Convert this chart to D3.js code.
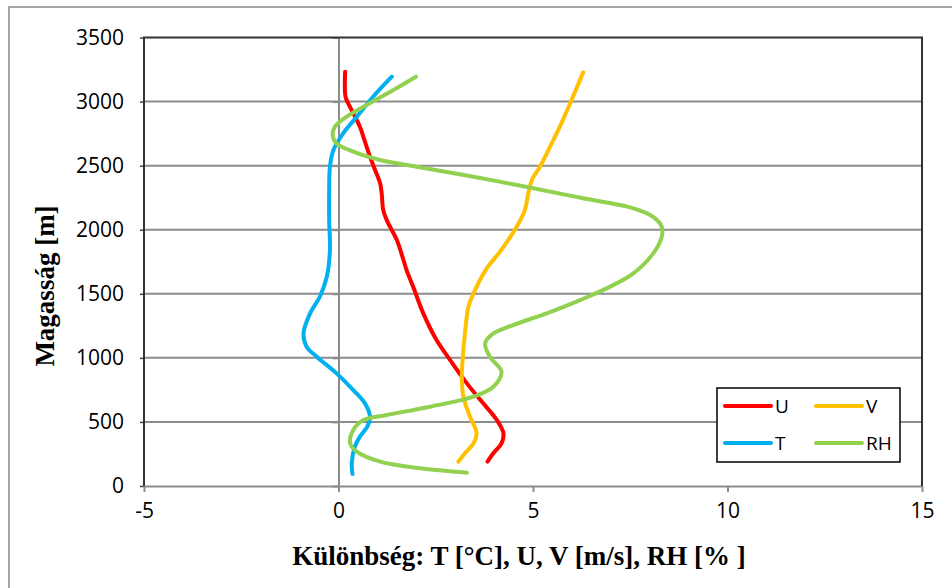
<!DOCTYPE html>
<html>
<head>
<meta charset="utf-8">
<script src="https://cdn.jsdelivr.net/npm/d3@7"></script>
<style>
  body { margin: 0; background: #fff; }
  svg { display: block; }
</style>
</head>
<body>
<script>
// Differences by height
const uHeight = [3233, 3038, 2986, 2908, 2804, 2725, 2570, 2466, 2362, 2284, 2153, 2075, 1919, 1763, 1685, 1555, 1347, 1139, 983, 801, 645, 515, 411, 333, 255, 190]
const uValue = [0.17, 0.18, 0.25, 0.38, 0.55, 0.64, 0.81, 0.94, 1.07, 1.11, 1.15, 1.24, 1.5, 1.67, 1.75, 1.92, 2.18, 2.52, 2.87, 3.30, 3.72, 4.07, 4.24, 4.19, 3.98, 3.83]

const vHeight = [3228, 3012, 2804, 2648, 2492, 2388, 2284, 2153, 2023, 1828, 1698, 1503, 1399, 1191, 983, 853, 697, 541, 411, 333, 255, 190]
const vValue = [6.29, 5.99, 5.69, 5.44, 5.18, 4.97, 4.88, 4.79, 4.58, 4.15, 3.81, 3.47, 3.34, 3.25, 3.19, 3.17, 3.21, 3.38, 3.55, 3.47, 3.25, 3.08]

const tHeight = [3194, 3038, 2882, 2752, 2622, 2492, 2284, 2075, 1841, 1633, 1477, 1347, 1191, 1087, 1009, 879, 749, 645, 541, 463, 385, 307, 177, 94]
const tValue = [1.37, 0.89, 0.47, 0.12, -0.13, -0.22, -0.24, -0.24, -0.22, -0.30, -0.48, -0.73, -0.90, -0.82, -0.56, -0.05, 0.38, 0.68, 0.81, 0.74, 0.55, 0.42, 0.34, 0.36]

const rhHeight = [3194, 3090, 2973, 2882, 2804, 2739, 2674, 2609, 2544, 2492, 2414, 2323, 2245, 2167, 2101, 2023, 1945, 1815, 1659, 1542, 1451, 1347, 1256, 1191, 1113, 1009, 892, 775, 697, 619, 554, 515, 437, 333, 268, 190, 138, 104]
const rhValue = [1.99, 1.41, 0.72, 0.21, -0.09, -0.15, -0.05, 0.38, 1.07, 2.01, 3.47, 5.01, 6.29, 7.58, 8.09, 8.31, 8.31, 8.09, 7.58, 6.89, 6.21, 5.35, 4.49, 3.98, 3.77, 3.89, 4.19, 3.98, 3.47, 2.35, 1.24, 0.64, 0.38, 0.30, 0.47, 1.07, 2.10, 3.30]

const xTicks = [-5, 0, 5, 10, 15]
const yTicks = [0, 500, 1000, 1500, 2000, 2500, 3000, 3500]

const seriesNames = ['U', 'V', 'T', 'RH']
const seriesColors = ['#ff0000', '#ffc000', '#00b0f0', '#92d050']

const series = [
    { name: 'U', h: uHeight, v: uValue },
    { name: 'V', h: vHeight, v: vValue },
    { name: 'T', h: tHeight, v: tValue },
    { name: 'RH', h: rhHeight, v: rhValue },
]

const W = 952, H = 588
const margin = { top: 37.5, right: 30, bottom: 102, left: 144 }
const width = 922 - margin.left
const height = 486 - margin.top

const svg = d3.select('body').append('svg')
    .attr('width', W)
    .attr('height', H)

// outer chart border
svg.append('rect')
    .attr('x', 9).attr('y', 7)
    .attr('width', W).attr('height', H)
    .style('fill', 'none')
    .style('stroke', '#a6a6a6')
    .style('stroke-width', 2)

const g = svg.append('g')
    .attr('transform', `translate(${margin.left}, ${margin.top})`)

const xScale = d3.scaleLinear().domain([-5, 15]).range([0, width])
const yScale = d3.scaleLinear().domain([0, 3500]).range([height, 0])

const plain = d => String(d)

// horizontal gridlines
g.append('g')
    .selectAll('line')
    .data(yTicks.filter(d => d > 0 && d < 3500))
    .join('line')
    .attr('x1', 0).attr('x2', width)
    .attr('y1', d => yScale(d)).attr('y2', d => yScale(d))
    .style('stroke', '#8c8c8c')
    .style('stroke-width', 2)

// y tick labels on the left border
const yAxis = g.append('g')
    .call(d3.axisLeft(yScale).tickValues(yTicks).tickFormat(plain).tickSize(4).tickPadding(16))
yAxis.select('.domain').remove()
yAxis.selectAll('line').style('stroke', '#404040').style('stroke-width', 1.5)
yAxis.selectAll('text')
    .style('font-family', '"Open Sans", sans-serif')
    .style('font-size', '21px')
    .style('fill', '#000')

// value axis through x = 0
const zeroAxis = g.append('g')
    .attr('transform', `translate(${xScale(0)}, 0)`)
    .call(d3.axisLeft(yScale).tickValues(yTicks).tickSize(6).tickSizeOuter(0).tickFormat(''))
zeroAxis.select('.domain').style('stroke', '#8c8c8c').style('stroke-width', 2)
zeroAxis.selectAll('line').style('stroke', '#8c8c8c').style('stroke-width', 2)

// x axis
const xAxis = g.append('g')
    .attr('transform', `translate(0, ${height})`)
    .call(d3.axisBottom(xScale).tickValues(xTicks).tickFormat(plain).tickSize(6).tickSizeOuter(0).tickPadding(11))
xAxis.select('.domain').style('stroke', '#8c8c8c').style('stroke-width', 2)
xAxis.selectAll('line').style('stroke', '#8c8c8c').style('stroke-width', 2)
xAxis.selectAll('text')
    .style('font-family', '"Open Sans", sans-serif')
    .style('font-size', '21px')
    .style('fill', '#000')

// plot border: left, top, right
g.append('path')
    .attr('d', `M0,${height}V0H${width}V${height}`)
    .style('fill', 'none')
    .style('stroke', '#333')
    .style('stroke-width', 2)

// series lines
const line = d3.line()
    .x(d => xScale(d[0]))
    .y(d => yScale(d[1]))
    .curve(d3.curveCatmullRom.alpha(0.5))

series.forEach((s, i) => {
    g.append('path')
        .datum(s.v.map((v, j) => [v, s.h[j]]))
        .style('fill', 'none')
        .style('stroke', seriesColors[i])
        .style('stroke-width', 4)
        .style('stroke-linecap', 'round')
        .style('stroke-linejoin', 'round')
        .attr('d', line)
})

// legend
const legend = svg.append('g').attr('transform', 'translate(717, 388)')
legend.append('rect')
    .attr('width', 183).attr('height', 74)
    .style('fill', '#fff')
    .style('stroke', '#000')
    .style('stroke-width', 1.5)

seriesNames.forEach((name, i) => {
    const col = i % 2, row = Math.floor(i / 2)
    const item = legend.append('g')
        .attr('transform', `translate(${8 + col * 91}, ${18 + row * 37})`)
    item.append('line')
        .attr('x1', 0).attr('x2', 46)
        .style('stroke', seriesColors[i])
        .style('stroke-width', 4)
        .style('stroke-linecap', 'round')
    item.append('text')
        .attr('x', 50).attr('y', 7)
        .style('font-family', '"Open Sans", sans-serif')
        .style('font-size', '19px')
        .text(name)
})

// axis titles
svg.append('text')
    .attr('x', 519).attr('y', 565)
    .attr('text-anchor', 'middle')
    .style('font-family', '"Liberation Serif", "Times New Roman", serif')
    .style('font-weight', 'bold')
    .style('font-size', '27px')
    .text('Különbség: T [°C], U, V [m/s], RH [% ]')

svg.append('text')
    .attr('transform', 'translate(54, 286) rotate(-90)')
    .attr('text-anchor', 'middle')
    .style('font-family', '"Liberation Serif", "Times New Roman", serif')
    .style('font-weight', 'bold')
    .style('font-size', '27px')
    .text('Magasság [m]')
</script>
</body>
</html>
